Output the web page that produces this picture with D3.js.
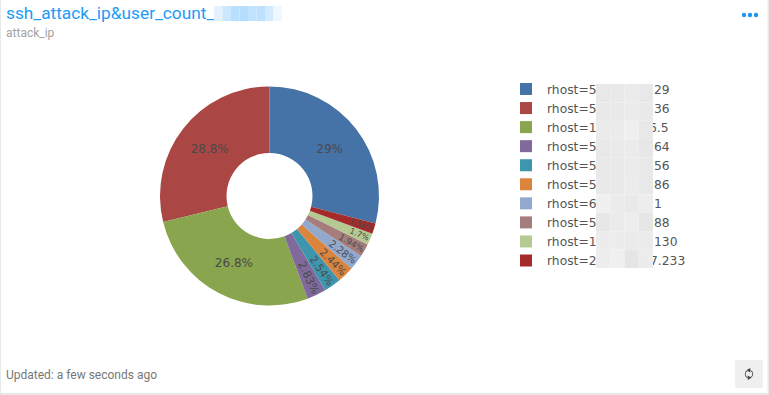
<!DOCTYPE html>
<html><head><meta charset="utf-8">
<script src="https://cdnjs.cloudflare.com/ajax/libs/d3/7.8.5/d3.min.js"></script>
<style>html,body{margin:0;padding:0;background:#fff}svg{display:block}</style>
</head><body><svg id="c" width="769" height="395"></svg>
<script>
const shares=[29,28.8,26.8,2.83,2.54,2.44,2.28,1.94,1.7,1.56];
const shareLabels=["29%","28.8%","26.8%","2.83%","2.54%","2.44%","2.28%","1.94%","1.7%","1.56%"];
const colors=["#4572a7","#aa4643","#89a54e","#80699b","#3d96ae","#db843d","#92a8cd","#a47d7c","#b5ca92","#a52a2a"];
const labelFontSizes=[12,12,12,11,10.6,10.3,10,8.6,8,7.6];
const legendStart=["rhost=59","rhost=59","rhost=1","rhost=59","rhost=59","rhost=59","rhost=6","rhost=59","rhost=18","rhost=2"];
const legendEnd=["29","36","6.5","64","56","86","1","88","130","7.233"];
const legendEndX=[654,654,649,654,654,654,654,654,654,650];
const maskShades=[
["#e8e8e8","#e9e9e9","#ebebeb","#e8e8e8"],
["#e9e9e9","#e9e9e9","#ebebeb","#e9e9e9"],
["#ebebeb","#ebebeb","#efefef","#e8e8e8"],
["#e8e8e8","#eaeaea","#ebebeb","#e7e7e7"],
["#e9e9e9","#e9e9e9","#ebebeb","#e8e8e8"],
["#e9e9e9","#e9e9e9","#ececec","#e8e8e8"],
["#f0f0f0","#ebebeb","#e9e9e9","#ededed"],
["#e7e7e7","#ebebeb","#eeeeee","#e6e6e6"],
["#ececec","#ececec","#ebebeb","#ebebeb"],
["#ededed","#f0f0f0","#e5e5e5","#ececec"]];
const titleMaskShades=["#e3f2fe","#cbe7fe","#b8dffe","#b4ddfe","#c2e3fe","#bde0fe","#d3ebfe","#f0f8ff"];

const svg=d3.select("#c");
const font="Roboto, sans-serif", mono="'DejaVu Sans', sans-serif";

// card
svg.append("rect").attr("width",769).attr("height",395).attr("fill","#e8e8e8");
svg.append("rect").attr("x",1).attr("y",0).attr("width",766.5).attr("height",393).attr("fill","#fff");
svg.append("text").attr("x",6).attr("y",19).attr("font-family",font).attr("font-size",17.3).attr("fill","#1e9bf5").text("ssh_attack_ip&user_count_");
svg.append("text").attr("x",6).attr("y",37).attr("font-family",font).attr("font-size",12).attr("fill","#a3a3a3").text("attack_ip");
svg.selectAll("rect.tm").data(titleMaskShades).join("rect").attr("class","tm")
  .attr("x",(d,i)=>214+i*8.5).attr("y",6).attr("width",8.5).attr("height",15).attr("fill",d=>d);
svg.selectAll("circle.dot").data(d3.range(3)).join("circle").attr("class","dot")
  .attr("cx",d=>744+d*6).attr("cy",15).attr("r",2.2).attr("fill","#1e96f0");

// pie
const total=d3.sum(shares);
const start=shares[0]/total*2*Math.PI;
const arcs=d3.pie().sort(null).startAngle(start).endAngle(start-2*Math.PI)(shares);
const R=109.5,r0=43;
const arc=d3.arc().innerRadius(r0).outerRadius(R);
const g=svg.append("g").attr("transform","translate(269.5,196)");
g.selectAll("path").data(arcs).join("path").attr("d",arc).attr("fill",(d,i)=>colors[i]);
g.selectAll("text").data(arcs).join("text")
  .attr("text-anchor",(d,i)=>i<3?"middle":"end").attr("dominant-baseline","central")
  .attr("font-family",mono).attr("font-size",(d,i)=>labelFontSizes[i]).attr("fill","#4a4a4a")
  .attr("transform",(d,i)=>{
    const big=i<3;
    const rr=big?76:108;
    const c=d3.arc().innerRadius(rr).outerRadius(rr).centroid(d);
    const a=(d.startAngle+d.endAngle)/2*180/Math.PI-90;
    return `translate(${c[0]},${c[1]})`+(big?"":` rotate(${a})`);
  }).text((d,i)=>shareLabels[i]);

// legend
const y=d3.scalePoint().domain(d3.range(10)).range([89.5,261]);
const lg=svg.append("g");
lg.selectAll("rect.sw").data(colors).join("rect").attr("class","sw")
  .attr("x",520).attr("y",(d,i)=>y(i)-6.5).attr("width",12).attr("height",12).attr("fill",d=>d);
const tx=sel=>sel.attr("font-family",mono).attr("font-size",12.3).attr("fill","#555").attr("dominant-baseline","central");
lg.selectAll("text.a").data(legendStart).join("text").attr("class","a").attr("x",547).attr("y",(d,i)=>y(i)).call(tx).text(d=>d);
lg.selectAll("text.b").data(legendEnd).join("text").attr("class","b").attr("x",(d,i)=>legendEndX[i]).attr("y",(d,i)=>y(i)).call(tx).text(d=>d);
maskShades.forEach((row,i)=>row.forEach((s,j)=>{
  lg.append("rect").attr("x",596+j*14.25).attr("y",84+i*18.4).attr("width",14.25).attr("height",18.4).attr("fill",s);
}));

// footer
svg.append("text").attr("x",6).attr("y",379).attr("font-family",font).attr("font-size",12).attr("fill","#777").text("Updated: a few seconds ago");
svg.append("rect").attr("x",735).attr("y",360).attr("width",28).attr("height",28).attr("rx",2).attr("fill","#efefef");
const ic=svg.append("g").attr("transform","translate(749,374)");
const iconArc=d3.arc().innerRadius(3.4).outerRadius(4.2);
ic.append("path").attr("d",iconArc({startAngle:0.35,endAngle:2.7})).attr("fill","#444");
ic.append("path").attr("d",iconArc({startAngle:3.5,endAngle:5.85})).attr("fill","#444");
ic.append("path").attr("d",d3.symbol(d3.symbolTriangle,9)()).attr("fill","#444").attr("transform","translate(0,-3.8) rotate(-90)");
ic.append("path").attr("d",d3.symbol(d3.symbolTriangle,9)()).attr("fill","#444").attr("transform","translate(0,3.8) rotate(90)");
</script></body></html>
